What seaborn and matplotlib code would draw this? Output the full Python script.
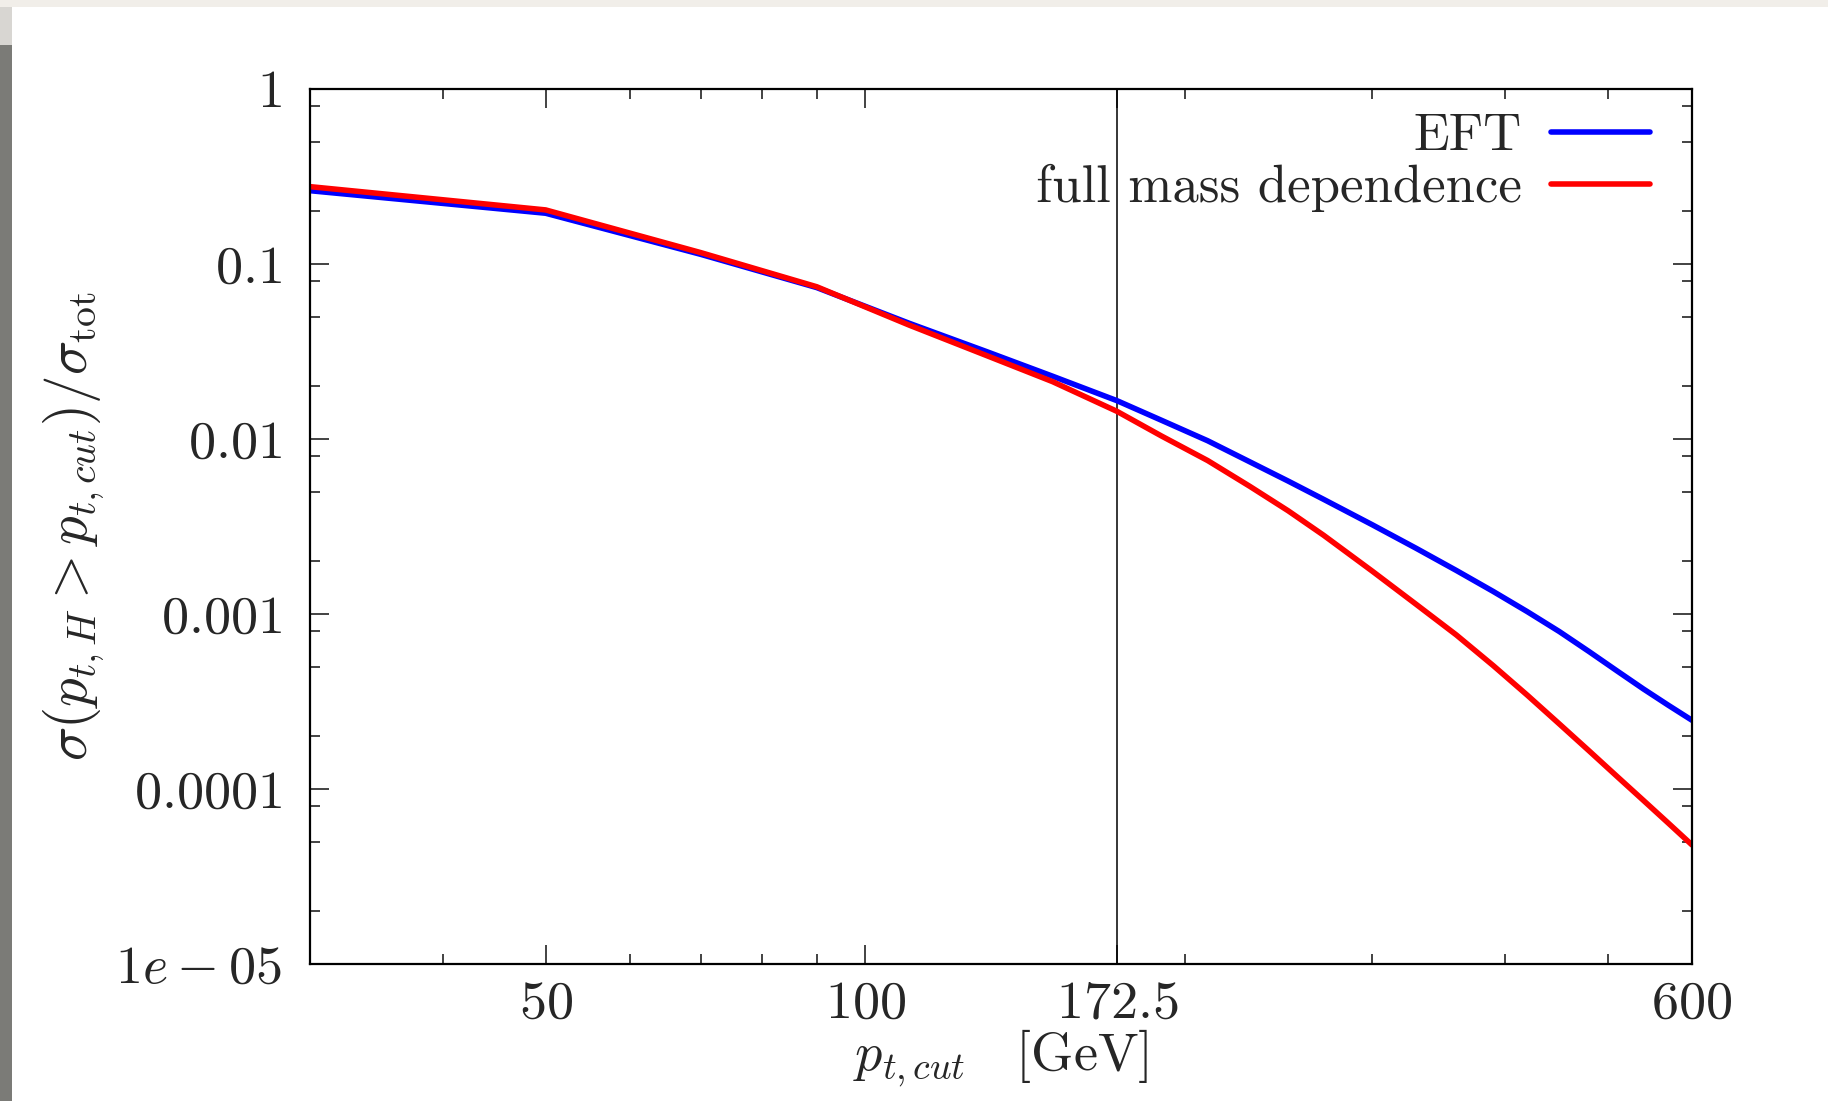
import numpy as np
import pandas as pd
import matplotlib
matplotlib.use("Agg")
import matplotlib.pyplot as plt
import seaborn as sns
from matplotlib.ticker import FixedLocator, NullFormatter
from matplotlib.patches import Rectangle
from matplotlib.lines import Line2D

# ---------------- data ----------------
pt_cut = [30, 50, 70, 90, 110, 130, 150, 172.5, 190, 210, 230, 250, 270,
          300, 330, 360, 390, 420, 450, 480, 510, 540, 570, 600]
eft = [0.2624, 0.195, 0.1135, 0.0733, 0.0458, 0.0316, 0.02286, 0.01656,
       0.01279, 0.00977, 0.00741, 0.00575, 0.00452, 0.003236, 0.002373,
       0.001773, 0.001345, 0.00103, 0.000794, 0.00061, 0.000473,
       0.000373, 0.000301, 0.000247]
full_mass = [0.2767, 0.2037, 0.1161, 0.0741, 0.0447, 0.02999, 0.02128,
             0.01439, 0.0104, 0.00753, 0.00537, 0.00389, 0.002818, 0.001758,
             0.001135, 0.000759, 0.000507, 0.000343, 0.0002355, 0.0001652,
             0.000118, 8.61e-5, 6.38e-5, 4.79e-5]
series_names = ["EFT", "full mass dependence"]
series_colors = ["#0000ff", "#ff0000"]

x_major = [50, 100, 172.5, 600]
x_major_labels = [r"$50$", r"$100$", r"$172.5$", r"$600$"]
x_minor = [40, 60, 70, 80, 90, 200, 300, 400, 500]
y_major = [1e-5, 1e-4, 1e-3, 1e-2, 1e-1, 1]
y_major_labels = [r"$1e-05$", r"$0.0001$", r"$0.001$", r"$0.01$", r"$0.1$", r"$1$"]
y_minor = [m * 10.0 ** e for e in range(-5, 0) for m in (2, 5, 8)]
mt_line = 172.5

df = pd.concat([
    pd.DataFrame({"pt": pt_cut, "val": eft, "series": series_names[0]}),
    pd.DataFrame({"pt": pt_cut, "val": full_mass, "series": series_names[1]}),
], ignore_index=True)

# ---------------- style ----------------
sns.set_style("ticks")
plt.rcParams["font.family"] = ["cmr10", "DejaVu Serif"]
plt.rcParams["mathtext.fontset"] = "cm"
plt.rcParams["axes.unicode_minus"] = False
plt.rcParams["axes.formatter.use_mathtext"] = True

FS = 39
W, H = 1828, 1101
fig = plt.figure(figsize=(W / 100, H / 100), dpi=100)
fig.patch.set_facecolor("white")

# screenshot-like border
fig.add_artist(Rectangle((0, 1 - 7 / H), 1, 7 / H, transform=fig.transFigure,
                         facecolor="#f1eee9", edgecolor="none", zorder=-5))
fig.add_artist(Rectangle((0, 0), 12 / W, 1 - 45 / H, transform=fig.transFigure,
                         facecolor="#7b7b77", edgecolor="none", zorder=-5))
fig.add_artist(Rectangle((0, 1 - 45 / H), 12 / W, 38 / H, transform=fig.transFigure,
                         facecolor="#d8d6d2", edgecolor="none", zorder=-5))

ax = fig.add_axes([310 / W, 1 - 964 / H, (1692 - 310) / W, (964 - 89) / H])

sns.lineplot(data=df, x="pt", y="val", hue="series",
             palette=dict(zip(series_names, series_colors)),
             linewidth=4.0, ax=ax, sort=True, estimator=None, legend=False)

ax.axvline(mt_line, color="black", linewidth=1.1, zorder=1)

ax.set_xscale("log")
ax.set_yscale("log")
ax.set_xlim(30, 600)
ax.set_ylim(1e-5, 1)

ax.xaxis.set_major_locator(FixedLocator(x_major))
ax.set_xticklabels(x_major_labels)
ax.xaxis.set_minor_locator(FixedLocator(x_minor))
ax.xaxis.set_minor_formatter(NullFormatter())
ax.yaxis.set_major_locator(FixedLocator(y_major))
ax.set_yticklabels(y_major_labels)
ax.yaxis.set_minor_locator(FixedLocator(y_minor))
ax.yaxis.set_minor_formatter(NullFormatter())

ax.tick_params(which="both", direction="in", top=True, right=True,
               color="#222222", width=1.2)
ax.tick_params(which="major", length=14, labelsize=FS)
ax.tick_params(which="minor", length=7)
ax.tick_params(axis="x", which="major", pad=12)
ax.tick_params(axis="y", which="major", pad=20)
for s in ax.spines.values():
    s.set_linewidth(1.6)
    s.set_color("black")

ax.set_xlabel(r"$p_{t,cut}\quad\mathrm{[GeV]}$", fontsize=FS, labelpad=0)
ax.set_ylabel(r"$\sigma(p_{t,H} > p_{t,cut})/\sigma_{\mathrm{tot}}$",
              fontsize=41, labelpad=6)

handles = [Line2D([], [], color=c, linewidth=4.0) for c in series_colors]
ax.legend(handles, series_names, loc="upper right",
          bbox_to_anchor=(0.9696, 0.972),
          frameon=False, markerfirst=False, fontsize=38, handlelength=1.88,
          handletextpad=0.55, labelspacing=0.07, borderpad=0.0,
          borderaxespad=0.0)

fig.savefig("out.png", dpi=100, facecolor=fig.get_facecolor())
